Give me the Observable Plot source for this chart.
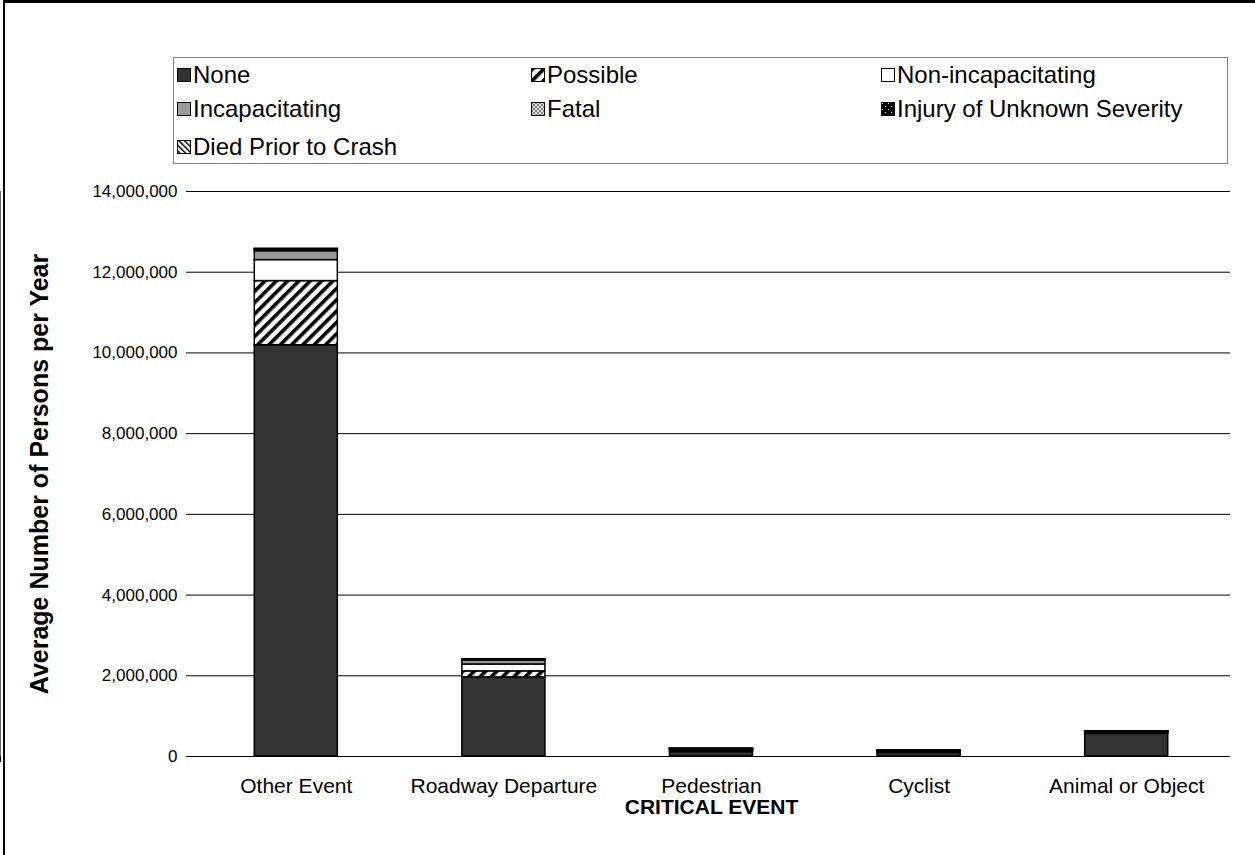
<!DOCTYPE html>
<html>
<head>
<meta charset="utf-8">
<script src="https://cdn.jsdelivr.net/npm/d3@7"></script>
<script src="https://cdn.jsdelivr.net/npm/@observablehq/plot@0.6"></script>
<style>
  html, body { margin: 0; padding: 0; background: #fff; }
  body { width: 1255px; height: 855px; position: relative; overflow: hidden; font-family: "Liberation Sans", Arial, sans-serif; }
  #frame { position: absolute; left: 3px; top: 0; width: 1260px; height: 860px; border-top: 3px solid #000; border-left: 2px solid #000; box-sizing: border-box; z-index: 5; pointer-events: none; background: transparent; }
  #legend { position: absolute; left: 173px; top: 57px; width: 1055px; height: 107px; border: 1px solid #808080; box-sizing: border-box; background: #fff; z-index: 2; }
  .item { position: absolute; display: flex; align-items: center; font-size: 24px; color: #000; white-space: nowrap; line-height: 1; }
  .item svg { margin-right: 2px; flex: none; }
  #chart { position: absolute; left: 0; top: 170px; }
</style>
</head>
<body>
<div id="frame"></div>
<div id="legend"></div>
<div id="chart"></div>
<script>
// ---- data ----
const categories = ["Other Event", "Roadway Departure", "Pedestrian", "Cyclist", "Animal or Object"];
const severities = ["None", "Possible", "Non-incapacitating", "Incapacitating", "Fatal", "Injury of Unknown Severity", "Died Prior to Crash"];
const noneValues      = [10190000, 1960000, 110000, 90000, 560000];
const possibleValues  = [1590000, 150000, 30000, 25000, 30000];
const nonIncapValues  = [520000, 170000, 30000, 20000, 20000];
const incapValues     = [220000, 100000, 15000, 8000, 7000];
const fatalValues     = [40000, 20000, 5000, 1000, 1000];
const unknownValues   = [15000, 5000, 2000, 1000, 1000];
const diedValues      = [3000, 1000, 500, 200, 200];
const yTicks = [0, 2000000, 4000000, 6000000, 8000000, 10000000, 12000000, 14000000];

const seriesValues = [noneValues, possibleValues, nonIncapValues, incapValues, fatalValues, unknownValues, diedValues];
const patternIds = ["pNone", "pPossible", "pNonIncap", "pIncap", "pFatal", "pUnknown", "pDied"];
const fills = patternIds.map(id => `url(#${id})`);

const rows = [];
categories.forEach((c, i) => {
  severities.forEach((s, j) => rows.push({event: c, severity: s, value: seriesValues[j][i]}));
});

// ---- patterns ----
const NS = "http://www.w3.org/2000/svg";
function makeDefs() {
  const defs = document.createElementNS(NS, "defs");
  defs.innerHTML = `
    <pattern id="pNone" patternUnits="userSpaceOnUse" width="4" height="4"><rect width="4" height="4" fill="#333333"/></pattern>
    <pattern id="pPossible" patternUnits="userSpaceOnUse" width="8" height="8" patternTransform="rotate(45)">
      <rect width="8" height="8" fill="#fff"/><rect x="0" y="0" width="3.6" height="8" fill="#000"/></pattern>
    <pattern id="pNonIncap" patternUnits="userSpaceOnUse" width="4" height="4"><rect width="4" height="4" fill="#fff"/></pattern>
    <pattern id="pIncap" patternUnits="userSpaceOnUse" width="4" height="4"><rect width="4" height="4" fill="#999999"/></pattern>
    <pattern id="pFatal" patternUnits="userSpaceOnUse" width="4" height="4">
      <rect width="4" height="4" fill="#e0e0e0"/><rect x="0" y="0" width="2" height="2" fill="#808080"/><rect x="2" y="2" width="2" height="2" fill="#808080"/></pattern>
    <pattern id="pUnknown" patternUnits="userSpaceOnUse" width="6" height="6">
      <rect width="6" height="6" fill="#000"/><rect x="1" y="1" width="1" height="1" fill="#fff"/><rect x="4" y="4" width="1" height="1" fill="#fff"/></pattern>
    <pattern id="pDied" patternUnits="userSpaceOnUse" width="4" height="4" patternTransform="rotate(-45)">
      <rect width="4" height="4" fill="#fff"/><rect x="0" y="0" width="1.5" height="4" fill="#000"/></pattern>`;
  return defs;
}

// custom mark: y axis line + x boundary ticks, positioned through the scales
function axisDecor(index, scales, values, dimensions) {
  const {x, y} = scales;
  const g = d3.create("svg:g").attr("stroke", "#000").attr("stroke-width", 1.2);
  const bw = x.bandwidth;
  const step = x(categories[1]) - x(categories[0]);
  const y0 = y(0), yTop = y(yTicks[yTicks.length - 1]);
  const left = x(categories[0]) + bw / 2 - step / 2;
  g.append("line").attr("x1", left).attr("x2", left).attr("y1", yTop).attr("y2", y0);
  categories.forEach((c) => {
    const b = x(c) + bw / 2 - step / 2;
    g.append("line").attr("x1", b).attr("x2", b).attr("y1", y0).attr("y2", y0 + 6);
  });
  const last = x(categories[categories.length - 1]) + bw / 2 + step / 2;
  g.append("line").attr("x1", last).attr("x2", last).attr("y1", y0).attr("y2", y0 + 6);
  return g.node();
}

const fmt = d3.format(",");
const chart = Plot.plot({
  width: 1255,
  height: 685,
  marginTop: 21,
  marginLeft: 192,
  marginRight: 25,
  marginBottom: 99,
  style: {fontFamily: "'Liberation Sans', Arial, sans-serif", fontSize: "17px", color: "#000", background: "transparent"},
  x: {domain: categories, paddingInner: 0.6, paddingOuter: 0.3, round: false, label: null},
  y: {domain: [0, 14000000], label: null},
  color: {domain: severities, range: fills},
  marks: [
    Plot.gridY(yTicks, {stroke: "#000", strokeOpacity: 1, strokeWidth: 1}),
    Plot.barY(rows, {x: "event", y: "value", fill: "severity", stroke: "#000", strokeWidth: 1.5}),
    Plot.ruleY([0], {stroke: "#000", strokeWidth: 1.2}),
    axisDecor,
    Plot.axisY({ticks: yTicks, tickFormat: fmt, tickSize: 6, tickPadding: 9, fontSize: 17, label: null}),
    Plot.axisX({tickSize: 0, tickPadding: 22, fontSize: 21, label: null}),
    Plot.text(["Average Number of Persons per Year"], {frameAnchor: "left", textAnchor: "middle", lineAnchor: "middle", dx: -153, rotate: -90, fontWeight: "bold", fontSize: 25}),
    Plot.text(["CRITICAL EVENT"], {frameAnchor: "bottom", textAnchor: "middle", lineAnchor: "middle", dy: 51, fontWeight: "bold", fontSize: 21})
  ]
});
chart.insertBefore(makeDefs(), chart.firstChild);
document.getElementById("chart").appendChild(chart);

// ---- legend ----
const legend = document.getElementById("legend");
const colX = [3, 357, 707];
const rowY = [17, 51, 89];
severities.forEach((s, i) => {
  const item = document.createElement("div");
  item.className = "item";
  item.style.left = colX[i % 3] + "px";
  item.style.top = (rowY[Math.floor(i / 3)] - 12) + "px";
  item.innerHTML = `<svg width="14" height="14"><rect x="0.5" y="0.5" width="13" height="13" fill="${fills[i]}" stroke="#000" stroke-width="1"/></svg><span>${s}</span>`;
  legend.appendChild(item);
});
</script>
</body>
</html>
